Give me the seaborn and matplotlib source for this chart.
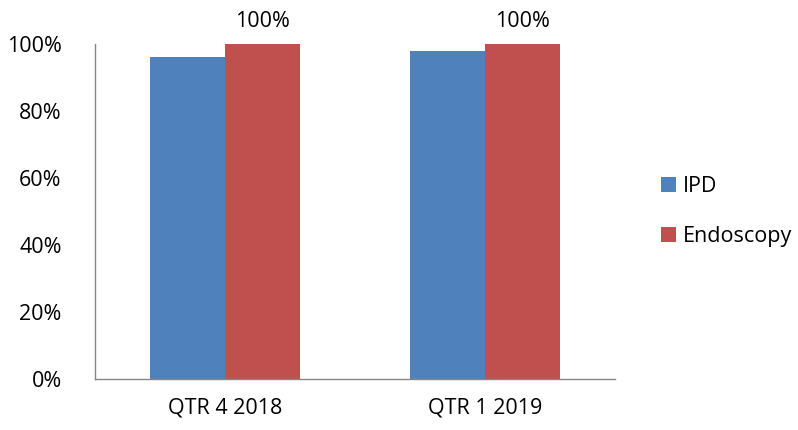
import matplotlib
matplotlib.use("Agg")
import matplotlib.pyplot as plt
import seaborn as sns
import pandas as pd

categories = ["QTR 4 2018", "QTR 1 2019"]
series_names = ["IPD", "Endoscopy"]
ipd_values = [96, 98]
endoscopy_values = [100, 100]
endo_labels = ["100%", "100%"]
colors = ["#4F81BD", "#C0504D"]

sns.set_theme(style="white")
plt.rcParams['font.family'] = ['Open Sans', 'DejaVu Sans']
plt.rcParams['text.color'] = 'black'
plt.rcParams['xtick.color'] = 'black'
plt.rcParams['ytick.color'] = 'black'

df = pd.DataFrame({
    "Quarter": categories * 2,
    "Series": [series_names[0]] * 2 + [series_names[1]] * 2,
    "Value": ipd_values + endoscopy_values,
})

FS = 15.5
fig = plt.figure(figsize=(7.98, 4.30), dpi=100)
ax = fig.add_axes([0.119, 0.1186, 0.652, 0.779])
sns.barplot(data=df, x="Quarter", y="Value", hue="Series", palette=colors,
            width=0.577, saturation=1, ax=ax, legend=True, linewidth=0)

ax.set_ylim(0, 100)
ax.set_yticks([0, 20, 40, 60, 80, 100])
ax.set_yticklabels([f"{v}%" for v in [0, 20, 40, 60, 80, 100]], fontsize=FS)
ax.tick_params(axis="x", labelsize=FS, length=0, pad=13, labelcolor="black")
ax.tick_params(axis="y", length=0, pad=24, labelcolor="black")
ax.set_xlabel("")
ax.set_ylabel("")
ax.set_xlim(-0.5, 1.5)

for s in ["top", "right"]:
    ax.spines[s].set_visible(False)
for s in ["left", "bottom"]:
    ax.spines[s].set_color("#868686")
    ax.spines[s].set_linewidth(1)

ax.bar_label(ax.containers[1], labels=endo_labels, padding=9, fontsize=FS, color="black")

leg = ax.legend(loc="center left", bbox_to_anchor=(1.05, 0.5), frameon=False,
                fontsize=FS, handlelength=0.7, handleheight=0.7, labelspacing=1.35,
                handletextpad=0.35)
for t in leg.get_texts():
    t.set_color("black")
ax.patch.set_alpha(0)
fig.savefig("out.png", dpi=100)
